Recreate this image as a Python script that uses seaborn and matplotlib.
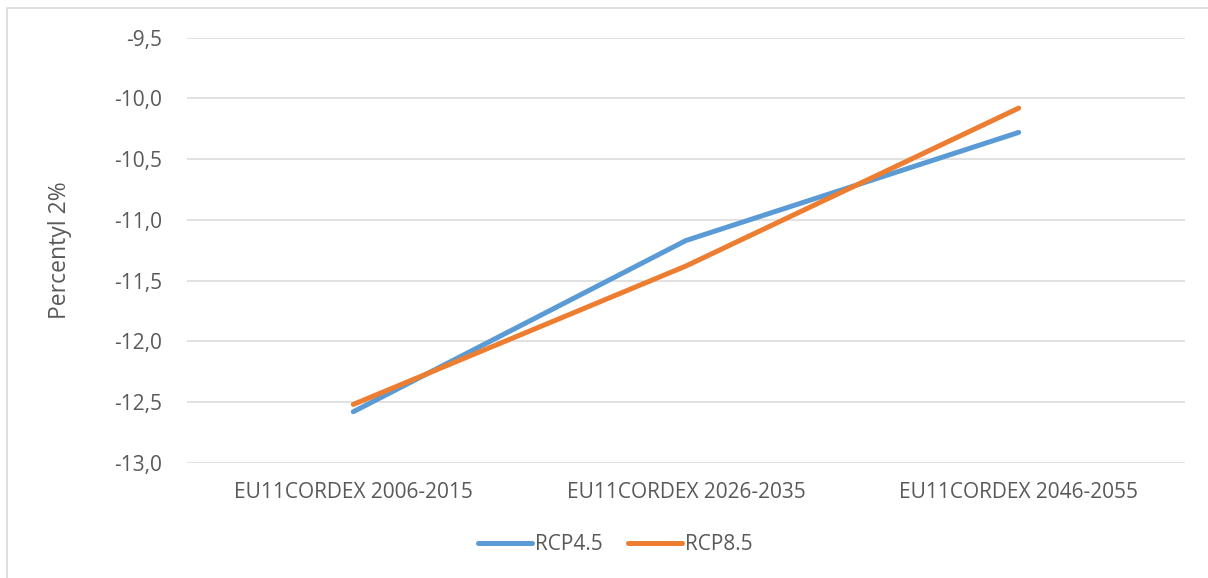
import numpy as np
import pandas as pd
import matplotlib.pyplot as plt
import matplotlib.ticker as mticker
from matplotlib.patches import Rectangle
import seaborn as sns

#categories and series
periods = ["EU11CORDEX 2006-2015", "EU11CORDEX 2026-2035", "EU11CORDEX 2046-2055"]
rcp45 = [-12.58, -11.17, -10.28]
rcp85 = [-12.52, -11.38, -10.08]
seriesNames = ["RCP4.5", "RCP8.5"]

#long-form table for seaborn
chartData = pd.DataFrame({
    "period": periods * 2,
    "value": rcp45 + rcp85,
    "scenario": [seriesNames[0]] * 3 + [seriesNames[1]] * 3,
})

sns.set_theme(style="white")
plt.rcParams["font.family"] = ["Open Sans", "DejaVu Sans"]
textCol = "#595959"

fig = plt.figure(figsize=(12.08, 5.78), dpi=100)
ax = fig.add_axes([187 / 1208, 1 - 462.7 / 578, (1185 - 187) / 1208, (462.7 - 37.7) / 578])

sns.lineplot(data=chartData, x="period", y="value", hue="scenario", sort=False,
             palette=["#5B9BD5", "#ED7D31"], linewidth=3.6, ax=ax,
             solid_capstyle="round", legend=True)

ax.set_ylim(-13, -9.5)
ax.set_xlim(-0.5, 2.5)
ax.yaxis.set_major_locator(mticker.MultipleLocator(0.5))
ax.yaxis.set_major_formatter(mticker.FuncFormatter(lambda v, p: ("%.1f" % v).replace(".", ",")))
ax.grid(axis="y", color="#D9D9D9", linewidth=1.1)
ax.set_axisbelow(True)
for s in ax.spines.values():
    s.set_visible(False)
ax.tick_params(axis="both", length=0, labelsize=15, colors=textCol)
ax.tick_params(axis="y", pad=18)
ax.tick_params(axis="x", pad=14)
ax.set_xlabel("")
ax.set_ylabel("Percentyl 2%", fontsize=16.5, color=textCol, labelpad=30)

#legend at the bottom, like the excel one
handles, labels = ax.get_legend_handles_labels()
ax.legend_.remove()
fig.legend(handles, labels, loc="center", bbox_to_anchor=(615 / 1208, 1 - 545 / 578),
           ncol=2, frameon=False, fontsize=15, handlelength=2.6, handletextpad=0.15,
           columnspacing=1.2, labelcolor=textCol)

#outer chart frame (cropped on right and bottom)
fig.patches.append(Rectangle((7 / 1208, -0.1), 1.2, 1.1 - 8 / 578, transform=fig.transFigure,
                             fill=False, edgecolor="#D9D9D9", linewidth=1.2))

plt.savefig("out.png", dpi=100)
